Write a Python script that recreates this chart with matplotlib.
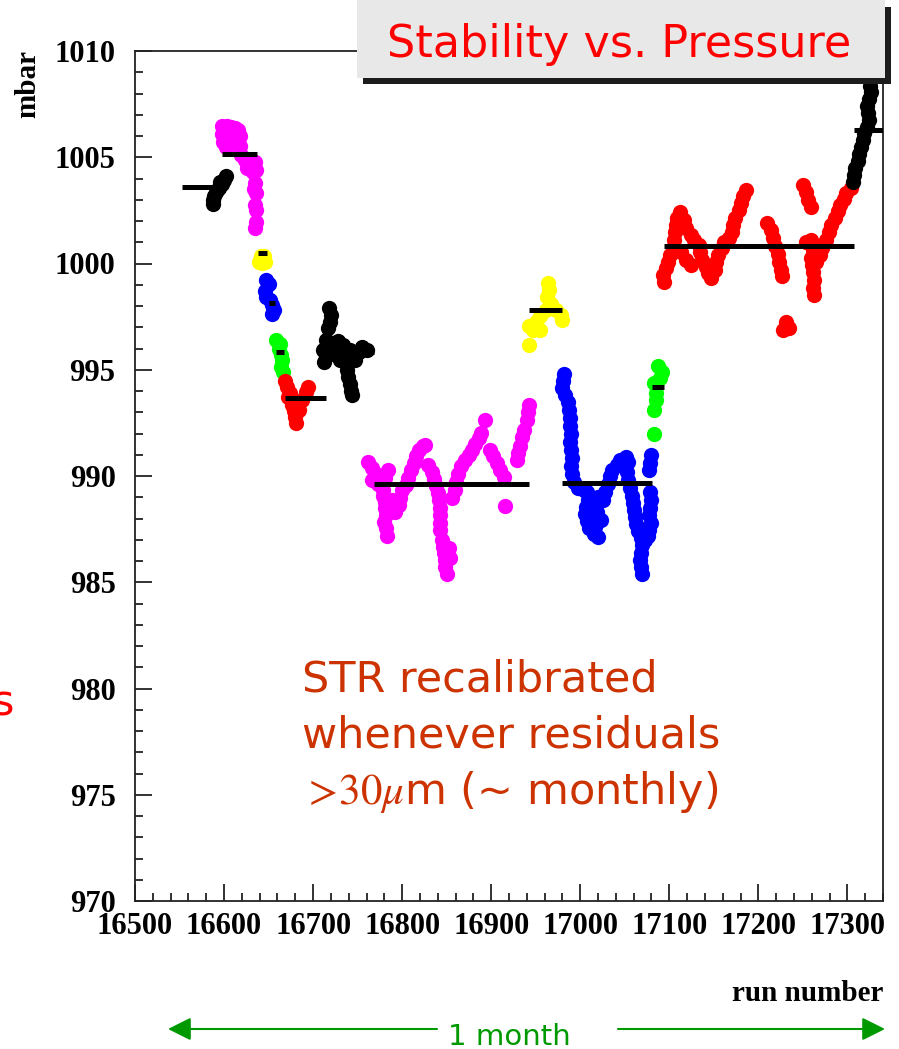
import matplotlib
matplotlib.use("Agg")
import matplotlib.pyplot as plt
from matplotlib.patches import Rectangle, FancyArrowPatch
from matplotlib.ticker import MultipleLocator

plt.rcParams['mathtext.fontset'] = 'stix'

W, H = 899, 1049

# run number / pressure (mbar), one block per period
black1_run = [16602, 16600, 16598, 16594, 16591, 16589, 16588, 16588, 16592, 16596]
black1_p = [1004.12, 1003.93, 1003.74, 1003.55, 1003.36, 1003.18, 1002.99, 1002.80, 1003.46, 1003.84]

magenta1_run = [16598, 16598, 16599, 16603, 16608, 16612, 16616, 16618, 16605, 16610, 16614, 16602, 16618,
                16619, 16624, 16628, 16632, 16635, 16636, 16632, 16626, 16635, 16634, 16636, 16635, 16636,
                16636, 16635]
magenta1_p = [1006.47, 1006.09, 1005.72, 1006.47, 1006.42, 1006.38, 1006.28, 1006.00, 1005.91, 1005.81,
              1005.58, 1005.48, 1005.53, 1005.11, 1004.87, 1004.73, 1004.64, 1004.78, 1004.40, 1004.31,
              1004.49, 1003.79, 1003.51, 1003.32, 1002.75, 1002.52, 1001.95, 1001.67]

yellow1_run = [16641, 16645, 16643, 16639, 16646]
yellow1_p = [1000.35, 1000.35, 1000.02, 1000.07, 1000.07]

blue1_run = [16647, 16650, 16646, 16647, 16652, 16654, 16656, 16654]
blue1_p = [999.22, 999.04, 998.71, 998.42, 998.28, 998.05, 997.81, 997.62]

green1_run = [16658, 16663, 16662, 16664, 16665, 16664, 16666]
green1_p = [996.40, 996.21, 995.98, 995.69, 995.46, 995.13, 994.89]

red1_run = [16669, 16671, 16674, 16675, 16676, 16679, 16680, 16681, 16684, 16688, 16692, 16694, 16672]
red1_p = [994.47, 994.19, 993.91, 993.62, 993.34, 993.06, 992.78, 992.49, 993.11, 993.58, 993.95, 994.19, 993.72]

black2_run = [16718, 16720, 16719, 16717, 16714, 16717, 16711, 16715, 16721, 16728, 16734, 16736, 16730,
              16737, 16738, 16739, 16742, 16743, 16744, 16747, 16751, 16755, 16760, 16742, 16712, 16726]
black2_p = [997.91, 997.58, 997.25, 996.96, 996.40, 996.16, 995.93, 995.65, 996.26, 996.35, 996.16, 995.84,
            995.46, 995.32, 994.99, 994.66, 994.33, 994.00, 993.81, 995.46, 995.84, 996.07, 995.93, 995.93,
            995.36, 995.69]

magenta2_run = [16762, 16766, 16771, 16766, 16773, 16778, 16781, 16784,
                16778, 16781, 16781, 16782, 16780, 16782, 16783, 16789, 16792,
                16792, 16796, 16798, 16800, 16804, 16807, 16810, 16813, 16816, 16819, 16823, 16826,
                16829, 16833, 16836, 16838, 16840, 16841, 16842, 16843, 16843, 16843,
                16845, 16846, 16847, 16848, 16848, 16850, 16853, 16854,
                16856, 16859, 16861, 16863, 16866, 16871, 16875, 16879, 16882, 16886, 16888,
                16893,
                16899, 16902, 16907, 16910, 16914,
                16915,
                16929, 16930, 16932, 16935, 16937, 16940, 16941, 16942]
magenta2_p = [990.66, 990.38, 990.09, 989.81, 989.62, 989.34, 989.91, 990.28,
              989.06, 988.78, 988.49, 988.16, 987.84, 987.55, 987.18, 988.87, 988.64,
              988.31, 988.64, 988.96, 989.34, 989.58, 989.91, 990.28, 990.61, 990.94, 991.22, 991.41, 991.46,
              990.52, 990.19, 989.86, 989.53, 989.20, 988.87, 988.49, 988.16, 987.79, 987.46,
              986.99, 986.66, 986.38, 986.05, 985.72, 985.39, 986.61, 986.14,
              988.96, 989.34, 989.72, 990.09, 990.47, 990.75, 990.99, 991.22, 991.51, 991.79, 992.02,
              992.64,
              991.22, 990.94, 990.61, 990.28, 989.95,
              988.59,
              990.75, 991.08, 991.41, 991.84, 992.16, 992.64, 993.01, 993.34]

yellow2_run = [16964, 16965, 16963, 16967, 16973, 16978, 16980, 16961, 16955, 16950, 16942, 16947, 16955, 16942]
yellow2_p = [999.08, 998.75, 998.42, 998.09, 997.81, 997.58, 997.34, 997.81, 997.53, 997.25, 997.06, 996.87,
             996.87, 996.16]

blue2_run = [16982, 16981, 16980, 16983, 16986, 16987, 16988, 16989, 16990, 16989, 16990, 16991, 16990, 16991,
             16993, 16998, 17004, 17008,
             17009, 17007, 17007, 17008, 17010, 17015, 17020, 17015, 17019, 17023, 17020, 17013, 17017, 17005,
             17026, 17028, 17031, 17033, 17036, 17041, 17045, 17051, 17054,
             17053, 17054, 17056, 17058, 17059, 17060, 17061, 17063, 17065, 17068, 17069, 17068, 17067, 17068,
             17069,
             17079, 17078, 17077, 17078, 17079, 17078, 17077, 17079, 17077, 17073, 17076]
blue2_p = [994.80, 994.47, 994.14, 993.81, 993.48, 993.11, 992.73, 992.35, 991.98, 991.60, 991.22, 990.85,
           990.47, 990.09, 989.72, 989.44, 989.34, 989.25,
           988.87, 988.54, 988.21, 987.88, 987.55, 987.27, 987.13, 988.64, 988.31, 987.93, 989.01, 988.00,
           987.60, 988.20,
           988.87, 989.25, 989.62, 990.00, 990.28, 990.52, 990.75, 990.89, 990.66,
           990.19, 989.81, 989.44, 989.06, 988.73, 988.40, 988.07, 987.74, 987.41, 987.08, 986.75, 986.38,
           986.05, 985.72, 985.39,
           990.99, 990.61, 990.28, 989.25, 988.87, 988.49, 988.16, 987.79, 987.46, 986.99, 987.18]

green2_run = [17087, 17092, 17090, 17083, 17085, 17085, 17083, 17083]
green2_p = [995.18, 994.89, 994.61, 994.38, 993.91, 993.58, 993.11, 991.98]

red2_run = [17094, 17093, 17096, 17099, 17101, 17104, 17105, 17106, 17108, 17109, 17112,
            17116, 17119, 17124, 17128, 17133, 17119, 17124, 17113,
            17135, 17137, 17141, 17144, 17147,
            17151, 17153, 17155, 17159, 17162, 17167, 17170, 17172, 17174, 17178, 17180, 17183, 17186,
            17210, 17214, 17217, 17219, 17222, 17223, 17225, 17227,
            17250, 17253, 17256, 17259,
            17259, 17261, 17259, 17260, 17261, 17262, 17261, 17262, 17254,
            17265, 17269, 17272, 17276, 17279, 17282, 17286, 17289, 17292, 17296, 17299, 17304,
            17231, 17234, 17228]
red2_p = [999.13, 999.46, 999.79, 1000.07, 1000.40, 1000.73, 1001.11, 1001.48, 1001.81, 1002.14, 1002.42,
          1002.05, 1001.67, 1001.34, 1001.11, 1000.87, 1000.16, 999.93, 1000.54,
          1000.54, 1000.16, 999.84, 999.55, 999.32,
          999.69, 1000.07, 1000.40, 1000.73, 1001.01, 1001.20, 1001.48, 1001.81, 1002.14, 1002.52, 1002.85,
          1003.18, 1003.46,
          1001.91, 1001.58, 1001.20, 1000.82, 1000.45, 1000.07, 999.69, 999.41,
          1003.69, 1003.36, 1002.99, 1002.66,
          1001.11, 1000.64, 1000.26, 999.93, 999.60, 999.22, 998.85, 998.52, 1001.01,
          1000.07, 1000.40, 1000.73, 1001.11, 1001.48, 1001.81, 1002.14, 1002.47, 1002.75, 1003.04, 1003.32,
          1003.55,
          997.25, 996.96, 996.87]

black3_run = [17306, 17307, 17309, 17312, 17313, 17315, 17317, 17319, 17322, 17324, 17323, 17322, 17324,
              17326, 17325]
black3_p = [1003.84, 1004.16, 1004.49, 1004.82, 1005.15, 1005.48, 1005.81, 1006.14, 1006.42, 1006.75,
            1007.08, 1007.41, 1007.74, 1008.07, 1008.35]

# mean pressure per period: first run, last run, mean
mean_start = [16553, 16598, 16638, 16650, 16658, 16669, 16714, 16768, 16942, 16980, 17081, 17094, 17307]
mean_end = [16587, 16637, 16648, 16657, 16667, 16714, 16768, 16942, 16980, 17081, 17094, 17307, 17340]
mean_p = [1003.6, 1005.15, 1000.49, 998.15, 995.84, 993.67, 995.84, 989.62, 997.81, 989.67, 994.19,
          1000.82, 1006.28]

groups = [
    (black1_run, black1_p, 'black'),
    (magenta1_run, magenta1_p, '#ff00ff'),
    (yellow1_run, yellow1_p, '#ffff00'),
    (blue1_run, blue1_p, '#0000ff'),
    (green1_run, green1_p, '#00ff00'),
    (red1_run, red1_p, '#ff0000'),
    (black2_run, black2_p, 'black'),
    (magenta2_run, magenta2_p, '#ff00ff'),
    (yellow2_run, yellow2_p, '#ffff00'),
    (blue2_run, blue2_p, '#0000ff'),
    (green2_run, green2_p, '#00ff00'),
    (red2_run, red2_p, '#ff0000'),
    (black3_run, black3_p, 'black'),
]


def fx(x):
    return x / W


def fy(y):
    return 1 - y / H


fig = plt.figure(figsize=(W / 100, H / 100), dpi=100)
ax = fig.add_axes([fx(135), fy(901), fx(883) - fx(135), fy(51) - fy(901)])

for runs, p, col in groups:
    ax.plot(runs, p, 'o', color=col, markersize=11, markeredgewidth=0, zorder=2)

for a, b, m in zip(mean_start, mean_end, mean_p):
    ax.plot([a, b], [m, m], color='black', lw=3.6, solid_capstyle='butt', zorder=3)

ax.set_xlim(16500, 17340)
ax.set_ylim(970, 1010)
ax.xaxis.set_major_locator(MultipleLocator(100))
ax.xaxis.set_minor_locator(MultipleLocator(20))
ax.yaxis.set_major_locator(MultipleLocator(5))
ax.yaxis.set_minor_locator(MultipleLocator(1))
ax.tick_params(which='both', direction='in', top=False, right=False, width=1.3, color='#222222')
ax.tick_params(which='major', length=12)
ax.tick_params(which='minor', length=5.5)
ax.tick_params(axis='y', which='major', pad=14)
ax.tick_params(axis='x', which='major', pad=8)
for lab in ax.get_xticklabels() + ax.get_yticklabels():
    lab.set_fontfamily('Liberation Serif')
    lab.set_fontweight('bold')
    lab.set_fontsize(22)
for s in ax.spines.values():
    s.set_linewidth(1.3)
    s.set_color('#222222')

serif = dict(family='Liberation Serif', weight='bold', fontsize=21, color='black')
fig.text(fx(28), fy(50), 'mbar', rotation=90, ha='center', va='top', **serif)
fig.text(fx(883), fy(1001), 'run number', ha='right', va='baseline', **serif)

# title box with shadow
fig.add_artist(Rectangle((fx(363), fy(84)), fx(891) - fx(363), fy(7) - fy(84),
                         transform=fig.transFigure, facecolor='#1c1c1c', edgecolor='none'))
fig.add_artist(Rectangle((fx(357), fy(78)), fx(885) - fx(357), fy(-5) - fy(78),
                         transform=fig.transFigure, facecolor='#e8e8e8', edgecolor='none'))
fig.text(fx(619), fy(57), 'Stability vs. Pressure', ha='center', va='baseline',
         fontsize=32, color='#ff0000', family='DejaVu Sans')

# note
note_col = '#cc3300'
fig.text(fx(302), fy(692), 'STR recalibrated', fontsize=31, color=note_col, va='baseline')
fig.text(fx(302), fy(748), 'whenever residuals', fontsize=31, color=note_col, va='baseline')
fig.text(fx(302), fy(804), r'$>\!30\mu$m (~ monthly)', fontsize=31, color=note_col, va='baseline')
fig.text(fx(14), fy(716), 's', fontsize=31, color='#ff0000', ha='right', va='baseline')

# 1 month arrows
green = '#009900'
for x0, x1 in [(437, 168), (618, 885)]:
    fig.add_artist(FancyArrowPatch((fx(x0), fy(1029)), (fx(x1), fy(1029)), transform=fig.transFigure,
                                   arrowstyle='-|>,head_length=14,head_width=7', mutation_scale=1,
                                   color=green, lw=1.5, shrinkA=0, shrinkB=0))
fig.text(fx(509), fy(1045), '1 month', fontsize=21, color=green, ha='center', va='baseline')

fig.savefig('out.png', dpi=100)
